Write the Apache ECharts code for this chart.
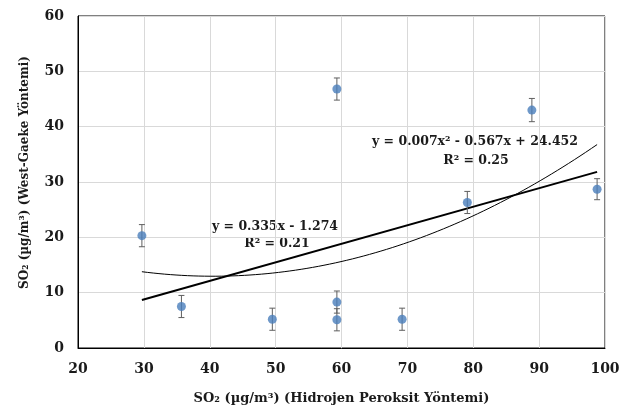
<!DOCTYPE html>
<html><head><meta charset="utf-8">
<script src="https://cdn.jsdelivr.net/npm/echarts@6/dist/echarts.min.js"></script>
<style>html,body{margin:0;padding:0;background:#fff}#c{width:635px;height:411px}</style>
</head><body><div id="c"></div>
<script>
const xValues = [29.7, 35.7, 49.5, 59.3, 59.3, 59.3, 69.2, 79.1, 88.9, 98.8];
const yValues = [20.3, 7.5, 5.2, 8.3, 5.1, 46.8, 5.2, 26.3, 43.0, 28.7];
const yErrors = [2.0, 2.0, 2.0, 2.0, 2.0, 2.0, 2.0, 2.0, 2.1, 1.9];
const xTicks = [20, 30, 40, 50, 60, 70, 80, 90, 100];
const yTicks = [0, 10, 20, 30, 40, 50, 60];
const linearCoef = [0.335, -1.274];          // slope, intercept
const polyCoef = [0.007, -0.567, 24.452];    // a, b, c
const linearLabel = ['y = 0.335x - 1.274', 'R² = 0.21'];
const polyLabel = ['y = 0.007x² - 0.567x + 24.452', 'R² = 0.25'];
const xTitle = 'SO₂ (µg/m³) (Hidrojen Peroksit Yöntemi)';
const yTitle = 'SO₂ (µg/m³) (West-Gaeke Yöntemi)';

const FONT = '"DejaVu Serif", "Liberation Serif", serif';
const xMinD = Math.min(...xValues), xMaxD = Math.max(...xValues);
const linLine = [xMinD, xMaxD].map(x => [x, linearCoef[0] * x + linearCoef[1]]);
const polyLine = [];
const N = 80;
for (let i = 0; i <= N; i++) {
  const x = xMinD + (xMaxD - xMinD) * i / N;
  polyLine.push([x, polyCoef[0] * x * x + polyCoef[1] * x + polyCoef[2]]);
}
const points = xValues.map((x, i) => [x, yValues[i]]);
const errData = xValues.map((x, i) => [x, yValues[i] - yErrors[i], yValues[i] + yErrors[i]]);

const chart = echarts.init(document.getElementById('c'), null, {renderer: 'canvas'});
const tickStyle = {fontFamily: FONT, fontWeight: 'bold', fontSize: 14, color: '#1a1a1a'};
chart.setOption({
  animation: false,
  backgroundColor: '#fff',
  grid: {left: 78, right: 30, top: 16, bottom: 63, show: true, borderColor: '#000', borderWidth: 1, containLabel: false},
  xAxis: {
    type: 'value', min: xTicks[0], max: xTicks[xTicks.length - 1], interval: 10,
    axisLine: {show: true, lineStyle: {color: '#000', width: 1}},
    axisTick: {show: false},
    splitLine: {show: true, lineStyle: {color: '#d9d9d9', width: 1}},
    axisLabel: Object.assign({margin: 14}, tickStyle),
    name: xTitle, nameLocation: 'middle', nameGap: 44,
    nameTextStyle: {fontFamily: FONT, fontWeight: 'bold', fontSize: 13, color: '#1a1a1a'}
  },
  yAxis: {
    type: 'value', min: yTicks[0], max: yTicks[yTicks.length - 1], interval: 10,
    axisLine: {show: true, lineStyle: {color: '#000', width: 1}},
    axisTick: {show: false},
    splitLine: {show: true, lineStyle: {color: '#d9d9d9', width: 1}},
    axisLabel: Object.assign({margin: 14}, tickStyle),
    name: yTitle, nameLocation: 'middle', nameGap: 47, nameRotate: 90,
    nameTextStyle: {fontFamily: FONT, fontWeight: 'bold', fontSize: 12, color: '#1a1a1a', padding: [0, 0, 0, 19]}
  },
  series: [
    {
      type: 'line', data: polyLine, showSymbol: false, symbol: 'none', smooth: false,
      lineStyle: {color: '#000', width: 1}, z: 2, silent: true
    },
    {
      type: 'line', data: linLine, showSymbol: false, symbol: 'none',
      lineStyle: {color: '#000', width: 2}, z: 3, silent: true
    },
    {
      type: 'custom', data: errData, z: 4,
      renderItem: function (params, api) {
        const x = api.value(0);
        const lo = api.coord([x, api.value(1)]);
        const hi = api.coord([x, api.value(2)]);
        const w = 3;
        const st = {stroke: '#5f5f5f', lineWidth: 1};
        return {type: 'group', children: [
          {type: 'line', shape: {x1: lo[0], y1: lo[1], x2: hi[0], y2: hi[1]}, style: st},
          {type: 'line', shape: {x1: lo[0] - w, y1: lo[1], x2: lo[0] + w, y2: lo[1]}, style: st},
          {type: 'line', shape: {x1: hi[0] - w, y1: hi[1], x2: hi[0] + w, y2: hi[1]}, style: st}
        ]};
      }
    },
    {
      type: 'scatter', data: points, symbol: 'circle', symbolSize: 9, z: 5,
      itemStyle: {color: '#4A7EBB'}
    }
  ],
  graphic: [
    {type: 'text', x: 275, y: 227, style: {text: linearLabel[0], align: 'center', verticalAlign: 'middle', font: 'bold 12.5px ' + FONT, fill: '#1a1a1a'}},
    {type: 'text', x: 277, y: 244, style: {text: linearLabel[1], align: 'center', verticalAlign: 'middle', font: 'bold 12.5px ' + FONT, fill: '#1a1a1a'}},
    {type: 'text', x: 475, y: 142, style: {text: polyLabel[0], align: 'center', verticalAlign: 'middle', font: 'bold 12.5px ' + FONT, fill: '#1a1a1a'}},
    {type: 'text', x: 476, y: 161, style: {text: polyLabel[1], align: 'center', verticalAlign: 'middle', font: 'bold 12.5px ' + FONT, fill: '#1a1a1a'}}
  ]
});
</script></body></html>
